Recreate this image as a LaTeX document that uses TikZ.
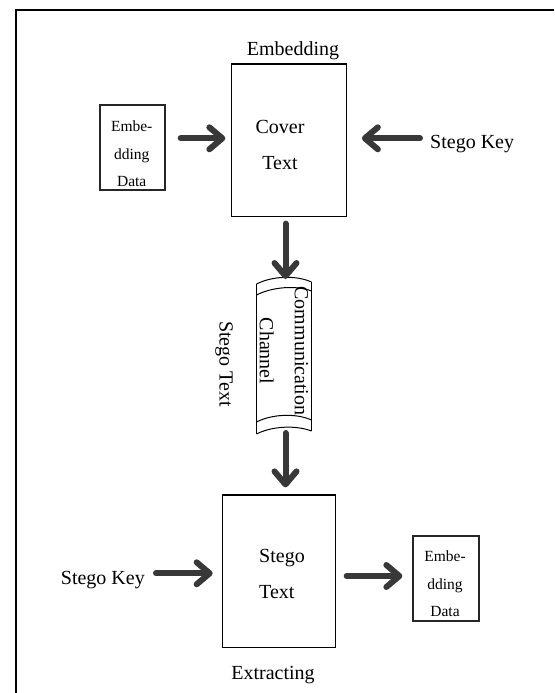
\documentclass[tikz,border=0pt]{standalone}
\usepackage{fontspec}
\setmainfont{Liberation Serif}
\usetikzlibrary{arrows.meta}
\begin{document}
\begin{tikzpicture}[x=1pt,y=-1pt,
  box/.style={draw=black, line width=1.3pt, inner sep=0pt},
  smallbox/.style={draw=black!85, line width=2pt, inner sep=0pt},
  lbl/.style={inner sep=0pt, font=\fontsize{20}{24}\selectfont},
  twoline/.style={inner sep=0pt, align=center, font=\fontsize{20}{36}\selectfont},
  small/.style={inner sep=0pt, align=center, font=\fontsize{15.5}{27.5}\selectfont},
  arr/.style={draw=black!78, line width=6pt, line cap=round,
    -{Straight Barb[round,length=13pt,width=22pt]}},
  tapeline/.style={draw=black, line width=1pt}
]
\useasboundingbox (0,0) rectangle (554,693);
% frame
\draw[line width=2pt] (16,693) -- (16,10) -- (554,10);

% boxes
\node[box, minimum width=115pt, minimum height=152.5pt] (cover) at (288.7,140.4) {};
\node[smallbox, minimum width=65pt, minimum height=85pt] (data1) at (132.7,147.6) {};
\node[box, minimum width=113.4pt, minimum height=152.3pt] (stego) at (279,571.2) {};
\node[smallbox, minimum width=65.7pt, minimum height=85pt] (data2) at (446.2,578.5) {};

% texts
\node[twoline] (covertxt) at (280,145) {Cover\\Text};
\node[small] (data1txt) at (131.7,153.7) {Embe-\\dding\\Data};
\node[twoline, align=left, anchor=west] (stegotxt) at (259,574) {Stego\\Text};
\node[small] (data2txt) at (445,584) {Embe-\\dding\\Data};
\node[lbl] (embed) at (293,51) {Embedding};
\node[lbl] (extract) at (273,675.5) {Extracting};
\node[lbl, anchor=west] (key1) at (430,144.5) {Stego Key};
\node[lbl, anchor=east] (key2) at (145,580.5) {Stego Key};
\node[lbl, rotate=-90] (stegoside) at (224,364) {Stego Text};

% communication channel (curled tape)
\draw[tapeline] (256.5,284) .. controls (272,276) and (296,275) .. (311.5,282);
\draw[tapeline] (256.5,295) .. controls (272,287) and (296,285) .. (311.5,291);
\draw[tapeline] (256.5,422) .. controls (272,414) and (296,413) .. (311.5,420);
\draw[tapeline] (256.5,434) .. controls (272,426) and (296,425) .. (311.5,431);
\draw[tapeline] (256.5,284) -- (256.5,434);
\draw[tapeline] (311.5,282) -- (311.5,431);
\node[inner sep=0pt, align=center, font=\fontsize{20}{35}\selectfont, rotate=-90]
  (chantxt) at (284,351) {Communication\\Channel};
\coordinate (chtop) at (285.5,279);
\coordinate (chbot) at (285.5,430);

% arrow rows
\coordinate (r1) at (0,138.3);
\coordinate (r2) at (0,573.3);
\coordinate (r3) at (0,576);

% connectors
\draw[arr, shorten <=14.5pt, shorten >=5.2pt] (data1.east |- r1) -- (cover.west |- r1);
\draw[arr, shorten <=10pt, shorten >=15pt] (key1.west |- r1) -- (cover.east |- r1);
\draw[arr, shorten <=6.3pt] (cover.south -| chtop) -- (chtop);
\draw[arr, shorten <=3pt, shorten >=7pt] (chbot) -- (stego.north -| chbot);
\draw[arr, shorten <=11pt, shorten >=9pt] (key2.east |- r2) -- (stego.west |- r2);
\draw[arr, shorten <=10.3pt, shorten >=10pt] (stego.east |- r3) -- (data2.west |- r3);
\end{tikzpicture}
\end{document}
